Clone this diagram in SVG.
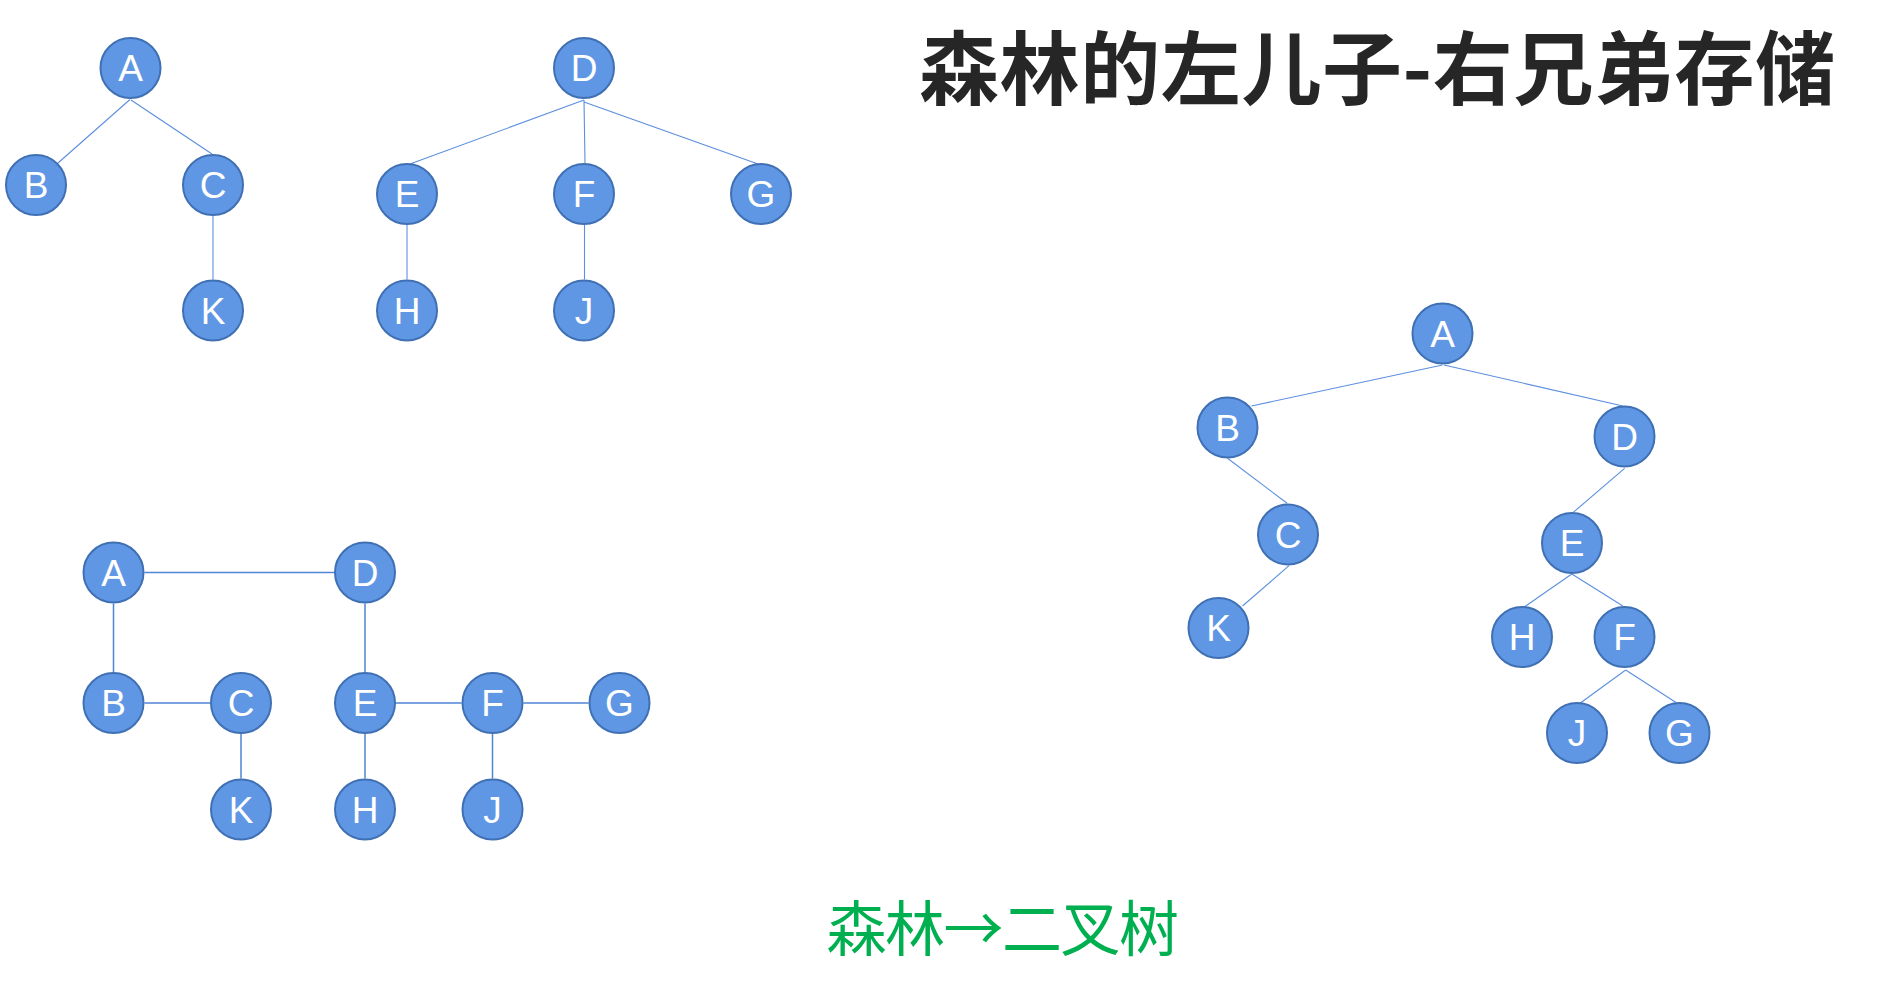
<svg xmlns="http://www.w3.org/2000/svg" width="1888" height="998" viewBox="0 0 1888 998">
  <style>
    .n circle { fill: #6097E4; stroke: #4070B4; stroke-width: 2; }
    .n text { fill: #FFFFFF; font-family: "Liberation Sans", Arial, sans-serif; font-size: 37px; text-anchor: middle; }
    .e line { stroke: #5C8FDF; stroke-width: 1.1; fill: none; }
    .e2 line { stroke: #4F84D6; stroke-width: 1.5; fill: none; }
    .title { font-family: "Noto Sans CJK SC", "Noto Sans", sans-serif; font-weight: 700; font-size: 80px; fill: #262626; letter-spacing: 0.6px; }
    .cap { font-family: "Noto Sans CJK SC", "Noto Sans", sans-serif; font-size: 60px; fill: #00B050; text-anchor: middle; letter-spacing: -1.5px; }
  </style>
  <rect width="1888" height="998" fill="#FFFFFF"/>

  <text class="title" x="919" y="98">森林的左儿子-右兄弟存储</text>
  <text class="cap" x="1002" y="951">森林→二叉树</text>

  <g id="connectors">
    <g class="e">
      <line x1="130" y1="99.5" x2="58" y2="163"/>
      <line x1="131" y1="100" x2="212" y2="154"/>
      <line x1="213" y1="216" x2="213" y2="279.5"/>
      <line x1="584" y1="100" x2="410" y2="164"/>
      <line x1="584" y1="100" x2="585" y2="163"/>
      <line x1="584" y1="102" x2="758" y2="164"/>
      <line x1="407" y1="225" x2="407" y2="279.5"/>
      <line x1="584.5" y1="225" x2="584.5" y2="279.5"/>

      <line x1="1442.5" y1="365" x2="1251.4" y2="406"/>
      <line x1="1444" y1="365" x2="1622.9" y2="406"/>
      <line x1="1227.5" y1="458.3" x2="1287.1" y2="503.3"/>
      <line x1="1624.6" y1="468.3" x2="1572.9" y2="512.7"/>
      <line x1="1289" y1="565.7" x2="1242.5" y2="606"/>
      <line x1="1571.8" y1="574" x2="1524.6" y2="606.7"/>
      <line x1="1571.8" y1="574" x2="1622.9" y2="606"/>
      <line x1="1625.7" y1="670" x2="1580" y2="703.3"/>
      <line x1="1625.7" y1="670" x2="1676.4" y2="702.7"/>
    </g>
    <g class="e2">
      <line x1="144.5" y1="572.5" x2="334" y2="572.5"/>
      <line x1="113.5" y1="603.5" x2="113.5" y2="672"/>
      <line x1="144.5" y1="703" x2="210" y2="703"/>
      <line x1="365" y1="603.5" x2="365" y2="672"/>
      <line x1="396" y1="703" x2="461.5" y2="703"/>
      <line x1="523.5" y1="703" x2="588.5" y2="703"/>
      <line x1="241" y1="734" x2="241" y2="778.5"/>
      <line x1="365" y1="734" x2="365" y2="778.5"/>
      <line x1="492.5" y1="734" x2="492.5" y2="778.5"/>
    </g>
  </g>

  <!-- Forest: tree 1 -->
  <g id="f1-A" class="n"><circle cx="130.5" cy="68" r="30"/><text x="130.5" y="81">A</text></g>
  <g id="f1-B" class="n"><circle cx="36" cy="185" r="30"/><text x="36" y="198">B</text></g>
  <g id="f1-C" class="n"><circle cx="213" cy="185" r="30"/><text x="213" y="198">C</text></g>
  <g id="f1-K" class="n"><circle cx="213" cy="310.5" r="30"/><text x="213" y="323.5">K</text></g>
  <!-- Forest: tree 2 -->
  <g id="f1-D" class="n"><circle cx="584" cy="68" r="30"/><text x="584" y="81">D</text></g>
  <g id="f1-E" class="n"><circle cx="407" cy="194" r="30"/><text x="407" y="207">E</text></g>
  <g id="f1-F" class="n"><circle cx="584" cy="194" r="30"/><text x="584" y="207">F</text></g>
  <g id="f1-G" class="n"><circle cx="761" cy="194" r="30"/><text x="761" y="207">G</text></g>
  <g id="f1-H" class="n"><circle cx="407" cy="310.5" r="30"/><text x="407" y="323.5">H</text></g>
  <g id="f1-J" class="n"><circle cx="584" cy="310.5" r="30"/><text x="584" y="323.5">J</text></g>

  <!-- Binary tree -->
  <g id="b-A" class="n"><circle cx="1442.5" cy="333.5" r="30"/><text x="1442.5" y="346.5">A</text></g>
  <g id="b-B" class="n"><circle cx="1227.5" cy="427.5" r="30"/><text x="1227.5" y="440.5">B</text></g>
  <g id="b-D" class="n"><circle cx="1624.5" cy="436.5" r="30"/><text x="1624.5" y="449.5">D</text></g>
  <g id="b-C" class="n"><circle cx="1288" cy="534.5" r="30"/><text x="1288" y="547.5">C</text></g>
  <g id="b-E" class="n"><circle cx="1572" cy="543" r="30"/><text x="1572" y="556">E</text></g>
  <g id="b-K" class="n"><circle cx="1218.5" cy="628" r="30"/><text x="1218.5" y="641">K</text></g>
  <g id="b-H" class="n"><circle cx="1522" cy="637" r="30"/><text x="1522" y="650">H</text></g>
  <g id="b-F" class="n"><circle cx="1624.5" cy="637" r="30"/><text x="1624.5" y="650">F</text></g>
  <g id="b-J" class="n"><circle cx="1577" cy="733" r="30"/><text x="1577" y="746">J</text></g>
  <g id="b-G" class="n"><circle cx="1679.5" cy="733" r="30"/><text x="1679.5" y="746">G</text></g>

  <!-- Left-child right-sibling layout -->
  <g id="s-A" class="n"><circle cx="113.5" cy="572.5" r="30"/><text x="113.5" y="585.5">A</text></g>
  <g id="s-D" class="n"><circle cx="365" cy="572.5" r="30"/><text x="365" y="585.5">D</text></g>
  <g id="s-B" class="n"><circle cx="113.5" cy="703" r="30"/><text x="113.5" y="716">B</text></g>
  <g id="s-C" class="n"><circle cx="241" cy="703" r="30"/><text x="241" y="716">C</text></g>
  <g id="s-E" class="n"><circle cx="365" cy="703" r="30"/><text x="365" y="716">E</text></g>
  <g id="s-F" class="n"><circle cx="492.5" cy="703" r="30"/><text x="492.5" y="716">F</text></g>
  <g id="s-G" class="n"><circle cx="619.5" cy="703" r="30"/><text x="619.5" y="716">G</text></g>
  <g id="s-K" class="n"><circle cx="241" cy="809.5" r="30"/><text x="241" y="822.5">K</text></g>
  <g id="s-H" class="n"><circle cx="365" cy="809.5" r="30"/><text x="365" y="822.5">H</text></g>
  <g id="s-J" class="n"><circle cx="492.5" cy="809.5" r="30"/><text x="492.5" y="822.5">J</text></g>
</svg>
